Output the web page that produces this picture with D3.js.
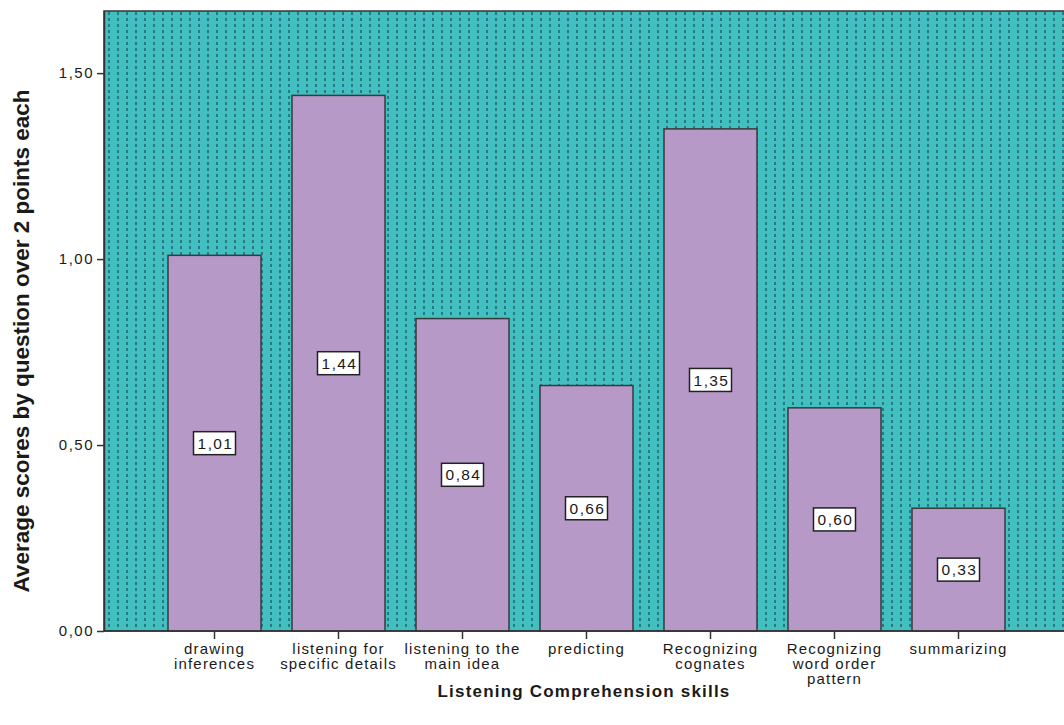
<!DOCTYPE html>
<html>
<head>
<meta charset="utf-8">
<script src="https://cdn.jsdelivr.net/npm/d3@7"></script>
<style>
  html, body { margin: 0; padding: 0; background: #ffffff; }
  svg { display: block; }
  text { font-family: "Liberation Sans", Arial, sans-serif; fill: #1a1a1a; }
</style>
</head>
<body>
<svg id="chart" width="1064" height="725"></svg>
<script>
// Skill categories (multi-line labels) and mean scores
const categories = [
  ["drawing", "inferences"],
  ["listening for", "specific details"],
  ["listening to the", "main idea"],
  ["predicting"],
  ["Recognizing", "cognates"],
  ["Recognizing", "word order", "pattern"],
  ["summarizing"]
];
const values = [1.01, 1.44, 0.84, 0.66, 1.35, 0.60, 0.33];
const yTicks = [0, 0.5, 1.0, 1.5];
const yTitle = "Average scores by question over 2 points each";
const xTitle = "Listening Comprehension skills";

const svg = d3.select("#chart");
const plot = { left: 104, top: 11, right: 1070, bottom: 631 };

const x = d3.scaleBand()
  .domain(d3.range(categories.length))
  .range([152.5, 1020.5])
  .paddingInner(0.25)
  .paddingOuter(0.125);

const y = d3.scaleLinear()
  .domain([0, 1.667])
  .range([plot.bottom, plot.top]);

const fmt = v => d3.format(".2f")(v).replace(".", ",");

// Dotted teal background pattern
const defs = svg.append("defs");
const pat = defs.append("pattern")
  .attr("id", "dots")
  .attr("patternUnits", "userSpaceOnUse")
  .attr("x", 108).attr("y", 12)
  .attr("width", 9).attr("height", 6);
pat.append("rect").attr("width", 9).attr("height", 6).attr("fill", "#41bfc1");
pat.append("rect").attr("x", 0).attr("y", 0).attr("width", 2).attr("height", 3)
  .attr("fill", "#277a7f");

svg.append("rect")
  .attr("x", plot.left).attr("y", plot.top)
  .attr("width", plot.right - plot.left).attr("height", plot.bottom - plot.top)
  .attr("fill", "url(#dots)")
  .attr("stroke", "#333").attr("stroke-width", 1.5);

// Bars
svg.append("g").selectAll("rect")
  .data(values)
  .join("rect")
  .attr("x", (d, i) => x(i))
  .attr("y", d => y(d))
  .attr("width", x.bandwidth())
  .attr("height", d => y(0) - y(d))
  .attr("fill", "#b799c8")
  .attr("stroke", "#3a3a3a")
  .attr("stroke-width", 1.5);

// Value labels in boxes at mid-height of each bar
const lab = svg.append("g").selectAll("g")
  .data(values)
  .join("g")
  .attr("transform", (d, i) => `translate(${x(i) + x.bandwidth() / 2},${y(d / 2)})`);
lab.append("rect")
  .attr("x", -21).attr("y", -11.5).attr("width", 42).attr("height", 23)
  .attr("fill", "#ffffff").attr("stroke", "#222").attr("stroke-width", 1.5);
lab.append("text")
  .attr("text-anchor", "middle")
  .attr("dy", "0.36em")
  .attr("dx", 1)
  .style("font-size", "15.5px")
  .style("letter-spacing", "1.4px")
  .text(d => fmt(d));

// Y axis
const yAxis = svg.append("g")
  .attr("transform", `translate(${plot.left},0)`)
  .call(d3.axisLeft(y).tickValues(yTicks).tickSize(7).tickSizeOuter(0).tickPadding(3).tickFormat(fmt));
yAxis.select(".domain").attr("stroke", "#333").attr("stroke-width", 1.5);
yAxis.selectAll(".tick line").attr("stroke", "#333").attr("stroke-width", 1.5);
yAxis.selectAll(".tick text")
  .style("font-size", "15px")
  .style("letter-spacing", "1.5px")
  .attr("fill", "#1a1a1a");

// X axis line and ticks
const xAxis = svg.append("g")
  .attr("transform", `translate(0,${plot.bottom})`)
  .call(d3.axisBottom(x).tickSize(8).tickSizeOuter(0).tickFormat(""));
xAxis.select(".domain").attr("d", `M${plot.left},0H${plot.right}`)
  .attr("stroke", "#333").attr("stroke-width", 1.5);
xAxis.selectAll(".tick line").attr("stroke", "#333").attr("stroke-width", 1.5);

// Multi-line category labels
const xl = svg.append("g").selectAll("text")
  .data(categories)
  .join("text")
  .attr("text-anchor", "middle")
  .attr("transform", (d, i) => `translate(${x(i) + x.bandwidth() / 2},${plot.bottom + 23})`)
  .style("font-size", "15px")
  .style("letter-spacing", "1.2px");
xl.selectAll("tspan")
  .data(d => d)
  .join("tspan")
  .attr("x", 0)
  .attr("y", (d, i) => i * 15)
  .text(d => d);

// Axis titles
svg.append("text")
  .attr("x", 584).attr("y", 697)
  .attr("text-anchor", "middle")
  .style("font-size", "17px")
  .style("font-weight", "bold")
  .style("letter-spacing", "1.2px")
  .text(xTitle);

svg.append("text")
  .attr("transform", `translate(29,341) rotate(-90)`)
  .attr("text-anchor", "middle")
  .style("font-size", "22.5px")
  .style("font-weight", "bold")
  .text(yTitle);
</script>
</body>
</html>
